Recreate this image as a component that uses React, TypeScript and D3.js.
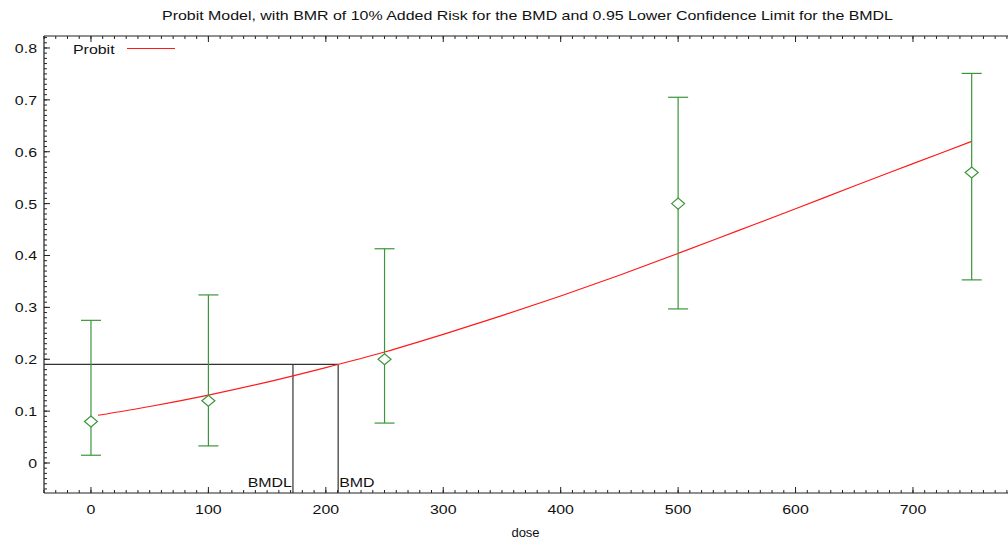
import React from "react";
import * as d3 from "d3";

const doses = [0, 100, 250, 500, 750];
const means = [0.08, 0.12, 0.2, 0.5, 0.56];
const lowers = [0.015, 0.033, 0.077, 0.297, 0.353];
const uppers = [0.275, 0.324, 0.413, 0.705, 0.751];

const curveDose = [6, 50, 100, 150, 200, 250, 300, 350, 400, 450, 500, 550, 600, 650, 700, 750];
const curveResp = [0.092, 0.109, 0.131, 0.156, 0.184, 0.214, 0.248, 0.284, 0.322, 0.362, 0.404, 0.447, 0.49, 0.534, 0.577, 0.62];

const bmr = 0.19;
const bmd = 210.5;
const bmdl = 172;

const xTicks = [0, 100, 200, 300, 400, 500, 600, 700];
const yTicks = [0, 0.1, 0.2, 0.3, 0.4, 0.5, 0.6, 0.7, 0.8];

const title = "Probit Model, with BMR of 10% Added Risk for the BMD and 0.95 Lower Confidence Limit for the BMDL";

const font = "'Liberation Sans', Arial, Helvetica, sans-serif";

function SText({ x, y, anchor = "start", size = 13.5, sx = 1.18, children }: any) {
  return (
    <g transform={`translate(${x},${y}) scale(${sx},1)`}>
      <text x={0} y={0} textAnchor={anchor} fontSize={size} fill="#111" fontFamily={font}>
        {children}
      </text>
    </g>
  );
}

export default function App() {
  const W = 1008, H = 539;
  const L = 44, T = 36, B = 493;
  const R = 1020;
  const xPerUnit = (913 - 91) / 700;
  const x = d3.scaleLinear().domain([-40, -40 + (R - L) / xPerUnit]).range([L, R]);
  const y = d3.scaleLinear().domain([-0.0578, 0.8231]).range([B, T]);
  const axisColor = "#222";
  const green = "#3a963a";
  const red = "#ff1a1a";

  const xMinor = d3.range(-40, 800, 10);
  const yMinor = d3.range(-0.05, 0.825, 0.01);

  const line = d3
    .line<number>()
    .x((_, i) => x(curveDose[i]))
    .y((d) => y(d))
    .curve(d3.curveMonotoneX);

  return (
    <svg
      width={W}
      height={H}
      style={{ position: "absolute", left: 0, top: 0, background: "#fff" }}
      fontFamily={font}
    >
      <rect x={0} y={0} width={W} height={H} fill="#fff" />
      <text
        x={162}
        y={20}
        fontSize={13}
        fill="#111"
        textLength={731}
        lengthAdjust="spacingAndGlyphs"
      >
        {title}
      </text>

      {/* frame */}
      <line x1={L} x2={R} y1={T} y2={T} stroke={axisColor} strokeWidth={1.2} />
      <line x1={L} x2={R} y1={B} y2={B} stroke={axisColor} strokeWidth={1.2} />
      <line x1={L} x2={L} y1={T} y2={B} stroke={axisColor} strokeWidth={1.2} />

      {/* x ticks */}
      {xMinor.map((v) => (
        <g key={"xm" + v}>
          <line x1={x(v)} x2={x(v)} y1={B} y2={B - 3} stroke={axisColor} strokeWidth={1} />
          <line x1={x(v)} x2={x(v)} y1={T} y2={T + 3} stroke={axisColor} strokeWidth={1} />
        </g>
      ))}
      {xTicks.map((v) => (
        <g key={"x" + v}>
          <line x1={x(v)} x2={x(v)} y1={B} y2={B - 6} stroke={axisColor} strokeWidth={1} />
          <line x1={x(v)} x2={x(v)} y1={T} y2={T + 6} stroke={axisColor} strokeWidth={1} />
          <SText x={x(v)} y={B + 21} anchor="middle">
            {String(v)}
          </SText>
        </g>
      ))}

      {/* y ticks */}
      {yMinor.map((v, i) => (
        <line key={"ym" + i} x1={L} x2={L + 3} y1={y(v)} y2={y(v)} stroke={axisColor} strokeWidth={1} />
      ))}
      {yTicks.map((v) => (
        <g key={"y" + v}>
          <line x1={L} x2={L + 6} y1={y(v)} y2={y(v)} stroke={axisColor} strokeWidth={1} />
          <SText x={37} y={y(v) + 5} anchor="end">
            {v === 0 ? "0" : v.toFixed(1)}
          </SText>
        </g>
      ))}

      <SText x={525.5} y={537} anchor="middle" size={13} sx={1}>
        dose
      </SText>

      {/* BMD lines */}
      <g stroke="#333" strokeWidth={1.2} fill="none">
        <line x1={L} x2={x(bmd)} y1={y(bmr)} y2={y(bmr)} />
        <line x1={x(bmdl)} x2={x(bmdl)} y1={y(bmr)} y2={B} />
        <line x1={x(bmd)} x2={x(bmd)} y1={y(bmr)} y2={B} />
      </g>
      <SText x={x(bmdl) - 1} y={487} anchor="end">
        BMDL
      </SText>
      <SText x={x(bmd) + 1} y={487} anchor="start">
        BMD
      </SText>

      {/* model curve */}
      <path d={line(curveResp) || ""} fill="none" stroke={red} strokeWidth={1.2} />

      {/* data with error bars */}
      {doses.map((d, i) => {
        const cx = x(d);
        const cy = y(means[i]);
        return (
          <g key={"p" + d} stroke={green} strokeWidth={1.2} fill="none">
            <line x1={cx} x2={cx} y1={y(lowers[i])} y2={y(uppers[i])} />
            <line x1={cx - 10} x2={cx + 10} y1={y(lowers[i])} y2={y(lowers[i])} />
            <line x1={cx - 10} x2={cx + 10} y1={y(uppers[i])} y2={y(uppers[i])} />
            <path d={`M${cx - 6.5},${cy} L${cx},${cy - 5.5} L${cx + 6.5},${cy} L${cx},${cy + 5.5} Z`} fill="#fff" />
          </g>
        );
      })}

      {/* legend */}
      <SText x={73} y={53.5} anchor="start">
        Probit
      </SText>
      <line x1={127} x2={175} y1={48.5} y2={48.5} stroke={red} strokeWidth={1.2} />
    </svg>
  );
}
